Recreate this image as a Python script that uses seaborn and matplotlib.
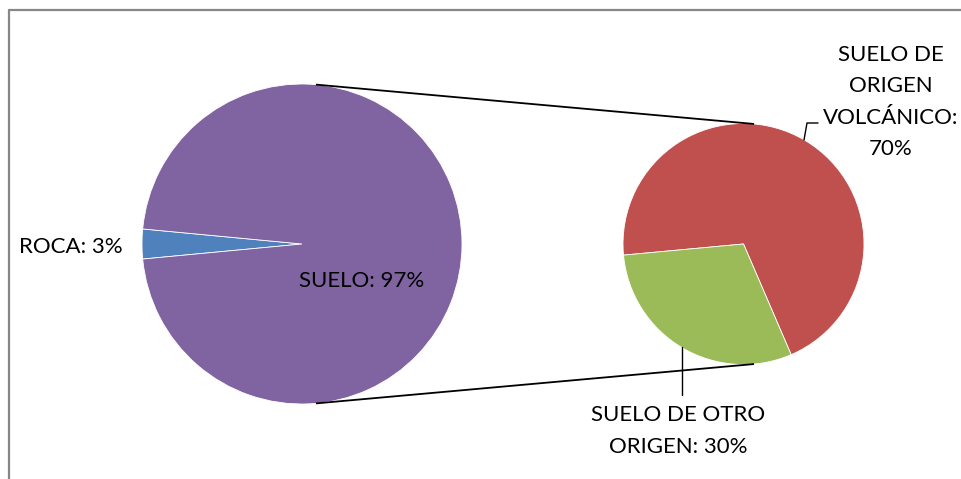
import matplotlib
matplotlib.use("Agg")
import matplotlib.pyplot as plt
import seaborn as sns
import numpy as np
from matplotlib.lines import Line2D

# main pie
main_labels = ["ROCA", "SUELO"]
main_values = [3, 97]
main_colors = ["#4F81BD", "#8064A2"]

# secondary pie (split of SUELO)
sub_labels = ["SUELO DE\nORIGEN\nVOLCÁNICO:", "SUELO DE OTRO\nORIGEN:"]
sub_values = [70, 30]
sub_colors = ["#C0504D", "#9BBB59"]

sns.set_theme(style="white")
plt.rcParams["font.family"] = ["Lato", "DejaVu Sans"]

W, H = 961, 479
fig = plt.figure(figsize=(W / 100, H / 100), dpi=100)
ax = fig.add_axes([0, 0, 1, 1])

c1, r1 = (302, 235), 160
c2, r2 = (743.5, 235), 120.5

# ROCA slice centered on the left side
start1 = 180 - main_values[0] / sum(main_values) * 360 / 2
ax.pie(main_values, colors=main_colors, startangle=start1, center=c1, radius=r1,
       wedgeprops=dict(edgecolor="white", linewidth=0.6), frame=True)
ax.pie(sub_values, colors=sub_colors, startangle=293.3, center=c2, radius=r2,
       wedgeprops=dict(edgecolor="white", linewidth=0.6), frame=True)
ax.set_xlim(0, W)
ax.set_ylim(0, H)
ax.set_aspect("equal")
ax.axis("off")

# connector lines between the pies
for a in (85, -85):
    t = np.deg2rad(a)
    ax.plot([c1[0] + r1 * np.cos(t), c2[0] + r2 * np.cos(t)],
            [c1[1] + r1 * np.sin(t), c2[1] + r2 * np.sin(t)],
            color="black", lw=1.3, solid_capstyle="butt")

fs = 16
tk = dict(ha="center", va="center", fontsize=fs, color="black")
ax.text(71, H - 247, f"{main_labels[0]}: {main_values[0]}%", **tk)
ax.text(362, H - 281, f"{main_labels[1]}: {main_values[1]}%", **tk)
ax.text(891, H - 102, f"{sub_labels[0]}\n{sub_values[0]}%", linespacing=1.7, **tk)
ax.text(678, H - 431, f"{sub_labels[1]} {sub_values[1]}%", linespacing=1.73, **tk)

# leader lines
ax.plot([804, 807, 818], [H - 140, H - 123, H - 123], color="black", lw=1)
ax.plot([682, 682], [H - 347, H - 395], color="black", lw=1)

# chart frame
fig.add_artist(Line2D([9 / W, 9 / W], [0, 1 - 10 / H], color="#878787", lw=1.6))
fig.add_artist(Line2D([9 / W, 1], [1 - 10 / H, 1 - 10 / H], color="#878787", lw=1.6))

fig.savefig("out.png", dpi=100)
